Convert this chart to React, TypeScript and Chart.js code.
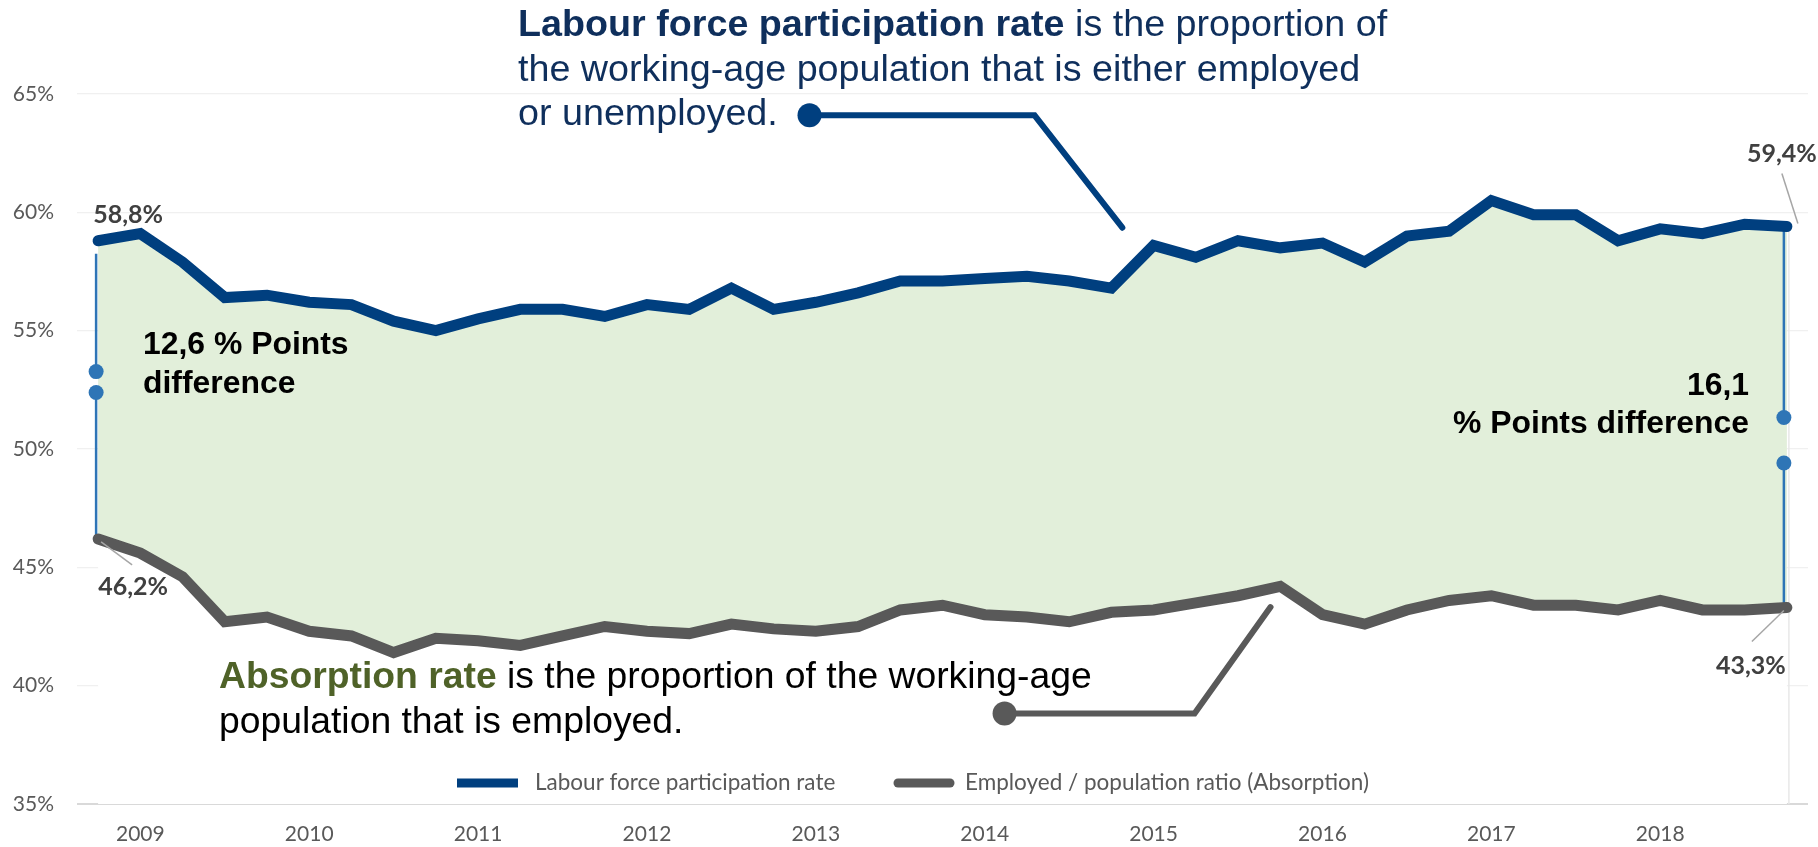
import React, { useEffect, useRef } from 'react';
import { Chart, registerables } from 'chart.js';

Chart.register(...registerables);

// ---------- DATA ----------
const quarters: string[] = [
  '2008 Q4',
  '2009 Q1', '2009 Q2', '2009 Q3', '2009 Q4',
  '2010 Q1', '2010 Q2', '2010 Q3', '2010 Q4',
  '2011 Q1', '2011 Q2', '2011 Q3', '2011 Q4',
  '2012 Q1', '2012 Q2', '2012 Q3', '2012 Q4',
  '2013 Q1', '2013 Q2', '2013 Q3', '2013 Q4',
  '2014 Q1', '2014 Q2', '2014 Q3', '2014 Q4',
  '2015 Q1', '2015 Q2', '2015 Q3', '2015 Q4',
  '2016 Q1', '2016 Q2', '2016 Q3', '2016 Q4',
  '2017 Q1', '2017 Q2', '2017 Q3', '2017 Q4',
  '2018 Q1', '2018 Q2', '2018 Q3', '2018 Q4',
];

const participationRate: number[] = [
  58.8, 59.1, 57.9, 56.4, 56.5, 56.2, 56.1, 55.4, 55.0, 55.5,
  55.9, 55.9, 55.6, 56.1, 55.9, 56.8, 55.9, 56.2, 56.6, 57.1,
  57.1, 57.2, 57.3, 57.1, 56.8, 58.6, 58.1, 58.8, 58.5, 58.7,
  57.9, 59.0, 59.2, 60.5, 59.9, 59.9, 58.8, 59.3, 59.1, 59.5,
  59.4,
];

const absorptionRate: number[] = [
  46.2, 45.6, 44.6, 42.7, 42.9, 42.3, 42.1, 41.4, 42.0, 41.9,
  41.7, 42.1, 42.5, 42.3, 42.2, 42.6, 42.4, 42.3, 42.5, 43.2,
  43.4, 43.0, 42.9, 42.7, 43.1, 43.2, 43.5, 43.8, 44.2, 43.0,
  42.6, 43.2, 43.6, 43.8, 43.4, 43.4, 43.2, 43.6, 43.2, 43.2,
  43.3,
];

const seriesLabels: string[] = [
  'Labour force participation rate',
  'Employed / population ratio (Absorption)',
];

const yTicks: number[] = [35, 40, 45, 50, 55, 60, 65];

// annotation text
const lfprBold = 'Labour force participation rate';
const lfprRest = [' is the proportion of', 'the working-age population that is either employed', 'or unemployed.'];
const absBold = 'Absorption rate';
const absRest = [' is the proportion of the working-age', 'population that is employed.'];

// ---------- STYLE ----------
const BLUE = '#003F7F';
const GREY = '#595959';
const GREEN_FILL = '#E2EFDA';
const BRACKET = '#2E75B6';
const NAVY_TEXT = '#0F2F5C';
const OLIVE = '#4F6228';
const LABEL = '#404040';
const TICK = '#595959';
const SANS = '"Liberation Sans", Arial, sans-serif';
const UI = 'Lato, "Open Sans", sans-serif';

const fmt = (v: number) => v.toFixed(1).replace('.', ',');

const annotationPlugin = {
  id: 'annotations',
  beforeDatasetsDraw(chart: any) {
    const ctx = chart.ctx;
    const xs = chart.scales.x;
    const ys = chart.scales.y;
    const last = participationRate.length - 1;
    ctx.save();
    // faint edge of the lower area
    ctx.strokeStyle = '#E8E8E8';
    ctx.lineWidth = 1.5;
    ctx.beginPath();
    ctx.moveTo(xs.getPixelForValue(last) + 2, ys.getPixelForValue(participationRate[last]));
    ctx.lineTo(xs.getPixelForValue(last) + 2, chart.chartArea.bottom);
    ctx.stroke();

    // difference brackets
    const drawBracket = (idx: number, top: number, dot1: number, dot2: number, bottom: number) => {
      const x = xs.getPixelForValue(idx) + (idx === 0 ? -2 : -3);
      ctx.strokeStyle = BRACKET;
      ctx.fillStyle = BRACKET;
      ctx.lineWidth = 2.5;
      ctx.beginPath();
      ctx.moveTo(x, ys.getPixelForValue(top));
      ctx.lineTo(x, ys.getPixelForValue(dot1));
      ctx.moveTo(x, ys.getPixelForValue(dot2));
      ctx.lineTo(x, ys.getPixelForValue(bottom));
      ctx.stroke();
      [dot1, dot2].forEach((d) => {
        ctx.beginPath();
        ctx.arc(x, ys.getPixelForValue(d), 7.5, 0, Math.PI * 2);
        ctx.fill();
      });
    };
    drawBracket(0, participationRate[0] - 0.55, 53.27, 52.39, absorptionRate[0]);
    drawBracket(last, participationRate[last], 51.33, 49.41, absorptionRate[last]);
    ctx.restore();
  },
  afterDraw(chart: any) {
    const ctx = chart.ctx;
    const xs = chart.scales.x;
    const ys = chart.scales.y;
    const px = (i: number) => xs.getPixelForValue(i);
    const py = (v: number) => ys.getPixelForValue(v);
    const last = participationRate.length - 1;
    ctx.save();

    // ---- callout lines ----
    const callout = (pts: number[][], color: string) => {
      ctx.strokeStyle = color;
      ctx.fillStyle = color;
      ctx.lineWidth = 6;
      ctx.lineCap = 'round';
      ctx.lineJoin = 'miter';
      ctx.beginPath();
      pts.forEach((p, k) => {
        const X = px(p[0]);
        const Y = py(p[1]);
        if (k === 0) ctx.moveTo(X, Y);
        else ctx.lineTo(X, Y);
      });
      ctx.stroke();
      ctx.beginPath();
      ctx.arc(px(pts[0][0]), py(pts[0][1]), 12, 0, Math.PI * 2);
      ctx.fill();
    };
    callout([[16.85, 64.1], [22.18, 64.1], [24.26, 59.35]], BLUE);
    callout([[21.47, 38.82], [25.97, 38.82], [27.77, 43.32]], GREY);

    // ---- explanatory texts ----
    ctx.textBaseline = 'alphabetic';
    ctx.textAlign = 'left';
    ctx.font = `bold 37.7px ${SANS}`;
    ctx.fillStyle = NAVY_TEXT;
    ctx.fillText(lfprBold, 518, 36);
    const bw = ctx.measureText(lfprBold).width;
    ctx.font = `37.7px ${SANS}`;
    ctx.fillText(lfprRest[0], 518 + bw, 36);
    ctx.fillText(lfprRest[1], 518, 81);
    ctx.fillText(lfprRest[2], 518, 125);

    ctx.font = `bold 37.3px ${SANS}`;
    ctx.fillStyle = OLIVE;
    ctx.fillText(absBold, 219, 688);
    const aw = ctx.measureText(absBold).width;
    ctx.font = `37.3px ${SANS}`;
    ctx.fillStyle = '#000000';
    ctx.fillText(absRest[0], 219 + aw, 688);
    ctx.fillText(absRest[1], 219, 733);

    // ---- difference texts ----
    ctx.font = `bold 31.9px ${SANS}`;
    ctx.fillStyle = '#000000';
    const d0 = fmt(participationRate[0] - absorptionRate[0]);
    const d1 = fmt(participationRate[last] - absorptionRate[last]);
    ctx.fillText(`${d0} % Points`, 143, 354);
    ctx.fillText('difference', 143, 393);
    ctx.textAlign = 'right';
    ctx.fillText(d1, 1749, 395);
    ctx.fillText('% Points difference', 1749, 433);

    // ---- data labels ----
    ctx.font = `bold 25px ${UI}`;
    ctx.fillStyle = LABEL;
    ctx.textAlign = 'center';
    ctx.textBaseline = 'middle';
    ctx.fillText(fmt(participationRate[0]) + '%', px(0) + 30, py(participationRate[0]) - 26);
    ctx.fillText(fmt(absorptionRate[0]) + '%', px(0) + 35, py(absorptionRate[0]) + 48);
    ctx.fillText(fmt(participationRate[last]) + '%', px(last) - 5, py(participationRate[last]) - 73);
    ctx.fillText(fmt(absorptionRate[last]) + '%', px(last) - 36, py(absorptionRate[last]) + 58);

    // leader lines
    ctx.strokeStyle = '#A6A6A6';
    ctx.lineWidth = 1.5;
    ctx.lineCap = 'butt';
    const leader = (x1: number, y1: number, x2: number, y2: number) => {
      ctx.beginPath();
      ctx.moveTo(x1, y1);
      ctx.lineTo(x2, y2);
      ctx.stroke();
    };
    leader(px(0) + 3, py(absorptionRate[0]) + 3, px(0) + 34, py(absorptionRate[0]) + 26);
    leader(px(last) - 5, py(participationRate[last]) - 53, px(last) + 11, py(participationRate[last]) - 3);
    leader(px(last) - 35, py(absorptionRate[last]) + 34, px(last) - 3, py(absorptionRate[last]) + 3);

    // ---- legend ----
    const ly = 783;
    ctx.fillStyle = BLUE;
    ctx.fillRect(457, ly - 4.5, 61, 9);
    ctx.font = `22.5px ${UI}`;
    ctx.fillStyle = TICK;
    ctx.textAlign = 'left';
    ctx.textBaseline = 'middle';
    ctx.fillText(seriesLabels[0], 535, ly);
    ctx.strokeStyle = GREY;
    ctx.lineWidth = 9;
    ctx.lineCap = 'round';
    ctx.beginPath();
    ctx.moveTo(898, ly);
    ctx.lineTo(950, ly);
    ctx.stroke();
    ctx.fillText(seriesLabels[1], 965, ly);

    ctx.restore();
  },
};

export default function App() {
  const canvasRef = useRef<HTMLCanvasElement | null>(null);

  useEffect(() => {
    if (!canvasRef.current) return;
    const chart = new Chart(canvasRef.current, {
      type: 'line',
      data: {
        labels: quarters,
        datasets: [
          {
            label: seriesLabels[0],
            data: participationRate,
            borderColor: BLUE,
            borderWidth: 11,
            borderCapStyle: 'round',
            borderJoinStyle: 'miter',
            pointRadius: 0,
            tension: 0,
            fill: 1,
            backgroundColor: GREEN_FILL,
          },
          {
            label: seriesLabels[1],
            data: absorptionRate,
            borderColor: GREY,
            borderWidth: 11,
            borderCapStyle: 'round',
            borderJoinStyle: 'miter',
            pointRadius: 0,
            tension: 0,
            fill: 'start',
            backgroundColor: '#FFFFFF',
          },
        ],
      },
      options: {
        animation: false,
        responsive: false,
        devicePixelRatio: 1,
        layout: { padding: { top: 94, right: 10, left: 0, bottom: 0 } },
        plugins: {
          legend: { display: false },
          tooltip: { enabled: false },
          filler: { drawTime: 'beforeDatasetsDraw' },
        } as any,
        scales: {
          x: {
            type: 'category',
            offset: true,
            grid: { display: false, drawTicks: false },
            border: { display: false },
            ticks: {
              autoSkip: false,
              maxRotation: 0,
              minRotation: 0,
              padding: 18,
              color: TICK,
              font: { family: UI, size: 21 },
              callback: (_v: any, i: number) => (quarters[i].endsWith('Q1') ? quarters[i].slice(0, 4) : ''),
            },
            afterFit: (s: any) => {
              s.height = 43;
            },
          },
          y: {
            min: yTicks[0],
            max: yTicks[yTicks.length - 1],
            afterBuildTicks: (s: any) => {
              s.ticks = yTicks.map((v) => ({ value: v }));
            },
            grid: {
              drawTicks: false,
              color: (c: any) => (c.tick && c.tick.value === 35 ? '#D9D9D9' : '#F0F0F0'),
              lineWidth: (c: any) => (c.tick && c.tick.value === 35 ? 2 : 1.3),
            },
            border: { display: false },
            ticks: {
              padding: 23,
              color: TICK,
              font: { family: UI, size: 21 },
              callback: (v: any) => `${v}%`,
            },
            afterFit: (s: any) => {
              s.width = 77;
            },
          },
        },
      },
      plugins: [annotationPlugin],
    } as any);
    return () => chart.destroy();
  }, []);

  return (
    <div style={{ position: 'fixed', left: 0, top: 0, width: 1818, height: 847, background: '#fff' }}>
      <canvas ref={canvasRef} width={1818} height={847} style={{ width: 1818, height: 847, display: 'block' }} />
    </div>
  );
}
